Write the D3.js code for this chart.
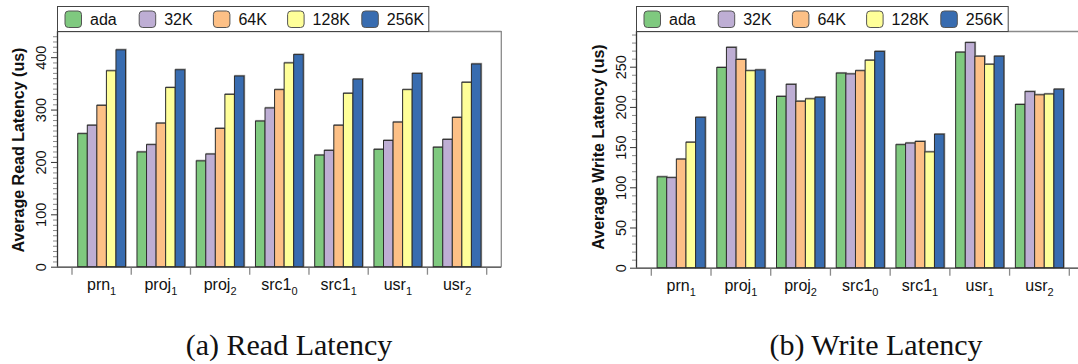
<!DOCTYPE html>
<html>
<head>
<meta charset="utf-8">
<script src="https://cdn.jsdelivr.net/npm/d3@7"></script>
<style>
  html, body { margin: 0; padding: 0; background: #fff; }
  svg { display: block; }
  text { font-family: "Liberation Sans", Arial, Helvetica, sans-serif; fill: #111; }
  .caption { font-family: "Liberation Serif", "Times New Roman", serif; }
</style>
</head>
<body>
<svg id="chart" width="1078" height="364"></svg>
<script>
// Workload traces (base name + subscript)
const traceNames = ["prn", "proj", "proj", "src1", "src1", "usr", "usr"];
const traceSubs  = ["1", "1", "2", "0", "1", "1", "2"];
const seriesNames = ["ada", "32K", "64K", "128K", "256K"];
const seriesColors = ["#7fc97f", "#beaed4", "#fdc086", "#ffff99", "#386cb0"];

// Average read latency (us), one array per configuration
const readAda  = [254, 219, 202, 278, 213, 224, 228];
const read32K  = [270, 233, 215, 303, 222, 241, 243];
const read64K  = [308, 274, 264, 338, 270, 276, 285];
const read128K = [374, 342, 329, 389, 331, 338, 352];
const read256K = [414, 376, 364, 405, 358, 369, 387];

// Average write latency (us)
const writeAda  = [113, 249, 213, 242, 153, 268, 203];
const write32K  = [112, 274, 228, 241, 155, 280, 219];
const write64K  = [135, 259, 207, 245, 157, 263, 215];
const write128K = [156, 245, 210, 258, 144, 253, 216];
const write256K = [187, 246, 212, 269, 166, 263, 222];

const readTicks  = [0, 100, 200, 300, 400];
const writeTicks = [0, 50, 100, 150, 200, 250];

const svg = d3.select("#chart");

function drawPanel(cfg) {
  const g = svg.append("g");
  const ids = traceNames.map((d, i) => i);
  const values = cfg.series;

  const x = d3.scaleBand().domain(ids).range([cfg.xStart, cfg.xEnd]).paddingInner(0).paddingOuter(0);
  const xs = d3.scaleBand().domain(seriesNames).range([0, x.bandwidth()]).paddingInner(0).paddingOuter(0.6);
  const y = d3.scaleLinear().domain([0, cfg.yMax]).range([cfg.zeroY, cfg.topY]);

  // frame: top and right edges
  g.append("line").attr("x1", cfg.axisX).attr("x2", cfg.rightX)
    .attr("y1", cfg.topY + 0.5).attr("y2", cfg.topY + 0.5)
    .attr("stroke", "#8a8a8a").attr("stroke-width", 1.3);
  g.append("line").attr("x1", cfg.rightX).attr("x2", cfg.rightX)
    .attr("y1", cfg.topY).attr("y2", cfg.zeroY)
    .attr("stroke", "#8a8a8a").attr("stroke-width", 1.3);

  // bars: soft grey outline underneath, dark outline on top
  const groups = g.append("g").selectAll("g").data(ids).join("g")
    .attr("transform", i => `translate(${x(i)},0)`);
  const barData = i => seriesNames.map((s, k) => ({ s, k, v: values[k][i] }));
  groups.selectAll("rect.shade")
    .data(barData)
    .join("rect").attr("class", "shade")
    .attr("x", d => xs(d.s) + 0.6)
    .attr("y", d => y(d.v) - 0.6)
    .attr("width", xs.bandwidth())
    .attr("height", d => y(0) - y(d.v))
    .attr("fill", "none")
    .attr("stroke", "#9a9a9a")
    .attr("stroke-width", 1.2);
  groups.selectAll("rect.bar")
    .data(barData)
    .join("rect").attr("class", "bar")
    .attr("x", d => xs(d.s))
    .attr("y", d => y(d.v))
    .attr("width", xs.bandwidth())
    .attr("height", d => y(0) - y(d.v))
    .attr("fill", d => seriesColors[d.k])
    .attr("stroke", "#2e2e2e")
    .attr("stroke-width", 1);

  // y axis: minor ticks
  const minor = d3.range(0, cfg.yMax, 10).filter(v => !cfg.ticks.includes(v));
  const minorAxis = g.append("g").attr("transform", `translate(${cfg.axisX},0)`)
    .call(d3.axisLeft(y).tickValues(minor).tickSize(4).tickFormat(""));
  minorAxis.select(".domain").remove();
  minorAxis.selectAll("line").attr("stroke", "#8a8a8a");

  // y axis: major ticks with rotated labels
  const yAxis = g.append("g").attr("transform", `translate(${cfg.axisX},0)`)
    .call(d3.axisLeft(y).tickValues(cfg.ticks).tickSize(6).tickSizeOuter(0));
  yAxis.select(".domain").attr("stroke", "#333").attr("stroke-width", 1.3)
    .attr("d", `M0.5,${cfg.zeroY}V${cfg.topY}`);
  yAxis.selectAll("line").attr("stroke", "#333");
  yAxis.selectAll("text")
    .attr("transform", "rotate(-90)")
    .attr("x", 0)
    .attr("y", -(cfg.axisX - cfg.tickLabelX))
    .attr("dy", "0.35em")
    .attr("text-anchor", "middle")
    .style("font-size", "14.5px")
    .style("font-family", "'Liberation Sans', Arial, sans-serif")
    .attr("fill", "#111");

  // y axis title
  g.append("text")
    .attr("transform", `translate(${cfg.titleX},${cfg.titleY}) rotate(-90)`)
    .attr("text-anchor", "middle")
    .attr("dy", "0.35em")
    .style("font-size", "16px")
    .style("font-weight", "bold")
    .text(cfg.title);

  // x axis baseline and separator ticks between traces
  g.append("line").attr("x1", cfg.axisX).attr("x2", cfg.rightX)
    .attr("y1", cfg.zeroY + 0.5).attr("y2", cfg.zeroY + 0.5)
    .attr("stroke", "#333").attr("stroke-width", 1.3);
  const sep = ids.map(i => x(i)).concat([x.range()[1]]);
  g.append("g").selectAll("line").data(sep).join("line")
    .attr("x1", d => d).attr("x2", d => d)
    .attr("y1", cfg.zeroY + 1).attr("y2", cfg.zeroY + 8)
    .attr("stroke", "#8a8a8a").attr("stroke-width", 1.3);

  // x labels with subscripts
  const lbl = g.append("g").selectAll("text").data(ids).join("text")
    .attr("x", i => x(i) + x.bandwidth() / 2)
    .attr("y", cfg.zeroY + 23)
    .attr("text-anchor", "middle")
    .style("font-size", "16px");
  lbl.append("tspan").text(i => traceNames[i]);
  lbl.append("tspan").attr("dy", 5).style("font-size", "11px").text(i => traceSubs[i]);

  // legend
  const lg = g.append("g");
  lg.append("rect")
    .attr("x", cfg.axisX + 0.5).attr("y", cfg.legendTop + 0.5)
    .attr("width", cfg.legendRight - cfg.axisX).attr("height", cfg.topY - cfg.legendTop)
    .attr("fill", "#fff").attr("stroke", "#444").attr("stroke-width", 1);
  const items = lg.selectAll("g").data(seriesNames).join("g")
    .attr("transform", (d, k) => `translate(${cfg.axisX + 8 + k * 74.2},${cfg.legendTop + 5})`);
  items.append("rect")
    .attr("width", 16.5).attr("height", 16.5).attr("rx", 3.5)
    .attr("fill", (d, k) => seriesColors[k])
    .attr("stroke", "#555").attr("stroke-width", 1);
  items.append("text")
    .attr("x", 25).attr("y", 14)
    .style("font-size", "16px")
    .text(d => d);

  // caption
  svg.append("text").attr("class", "caption")
    .attr("x", cfg.captionX).attr("y", 355)
    .attr("text-anchor", "middle")
    .style("font-size", "30px")
    .text(cfg.caption);
}

drawPanel({
  series: [readAda, read32K, read64K, read128K, read256K],
  ticks: readTicks, yMax: 450,
  axisX: 57, rightX: 501.3, topY: 31, zeroY: 266.7,
  xStart: 72, xEnd: 486.7,
  legendTop: 6, legendRight: 428.3,
  tickLabelX: 41, titleX: 18, titleY: 150,
  title: "Average Read Latency (us)",
  caption: "(a) Read Latency", captionX: 289
});

drawPanel({
  series: [writeAda, write32K, write64K, write128K, write256K],
  ticks: writeTicks, yMax: 294.4,
  axisX: 636, rightX: 1084, topY: 31, zeroY: 267.7,
  xStart: 651.3, xEnd: 1069.3,
  legendTop: 6, legendRight: 1007.7,
  tickLabelX: 621, titleX: 598, titleY: 147,
  title: "Average Write Latency (us)",
  caption: "(b) Write Latency", captionX: 876
});
</script>
</body>
</html>
